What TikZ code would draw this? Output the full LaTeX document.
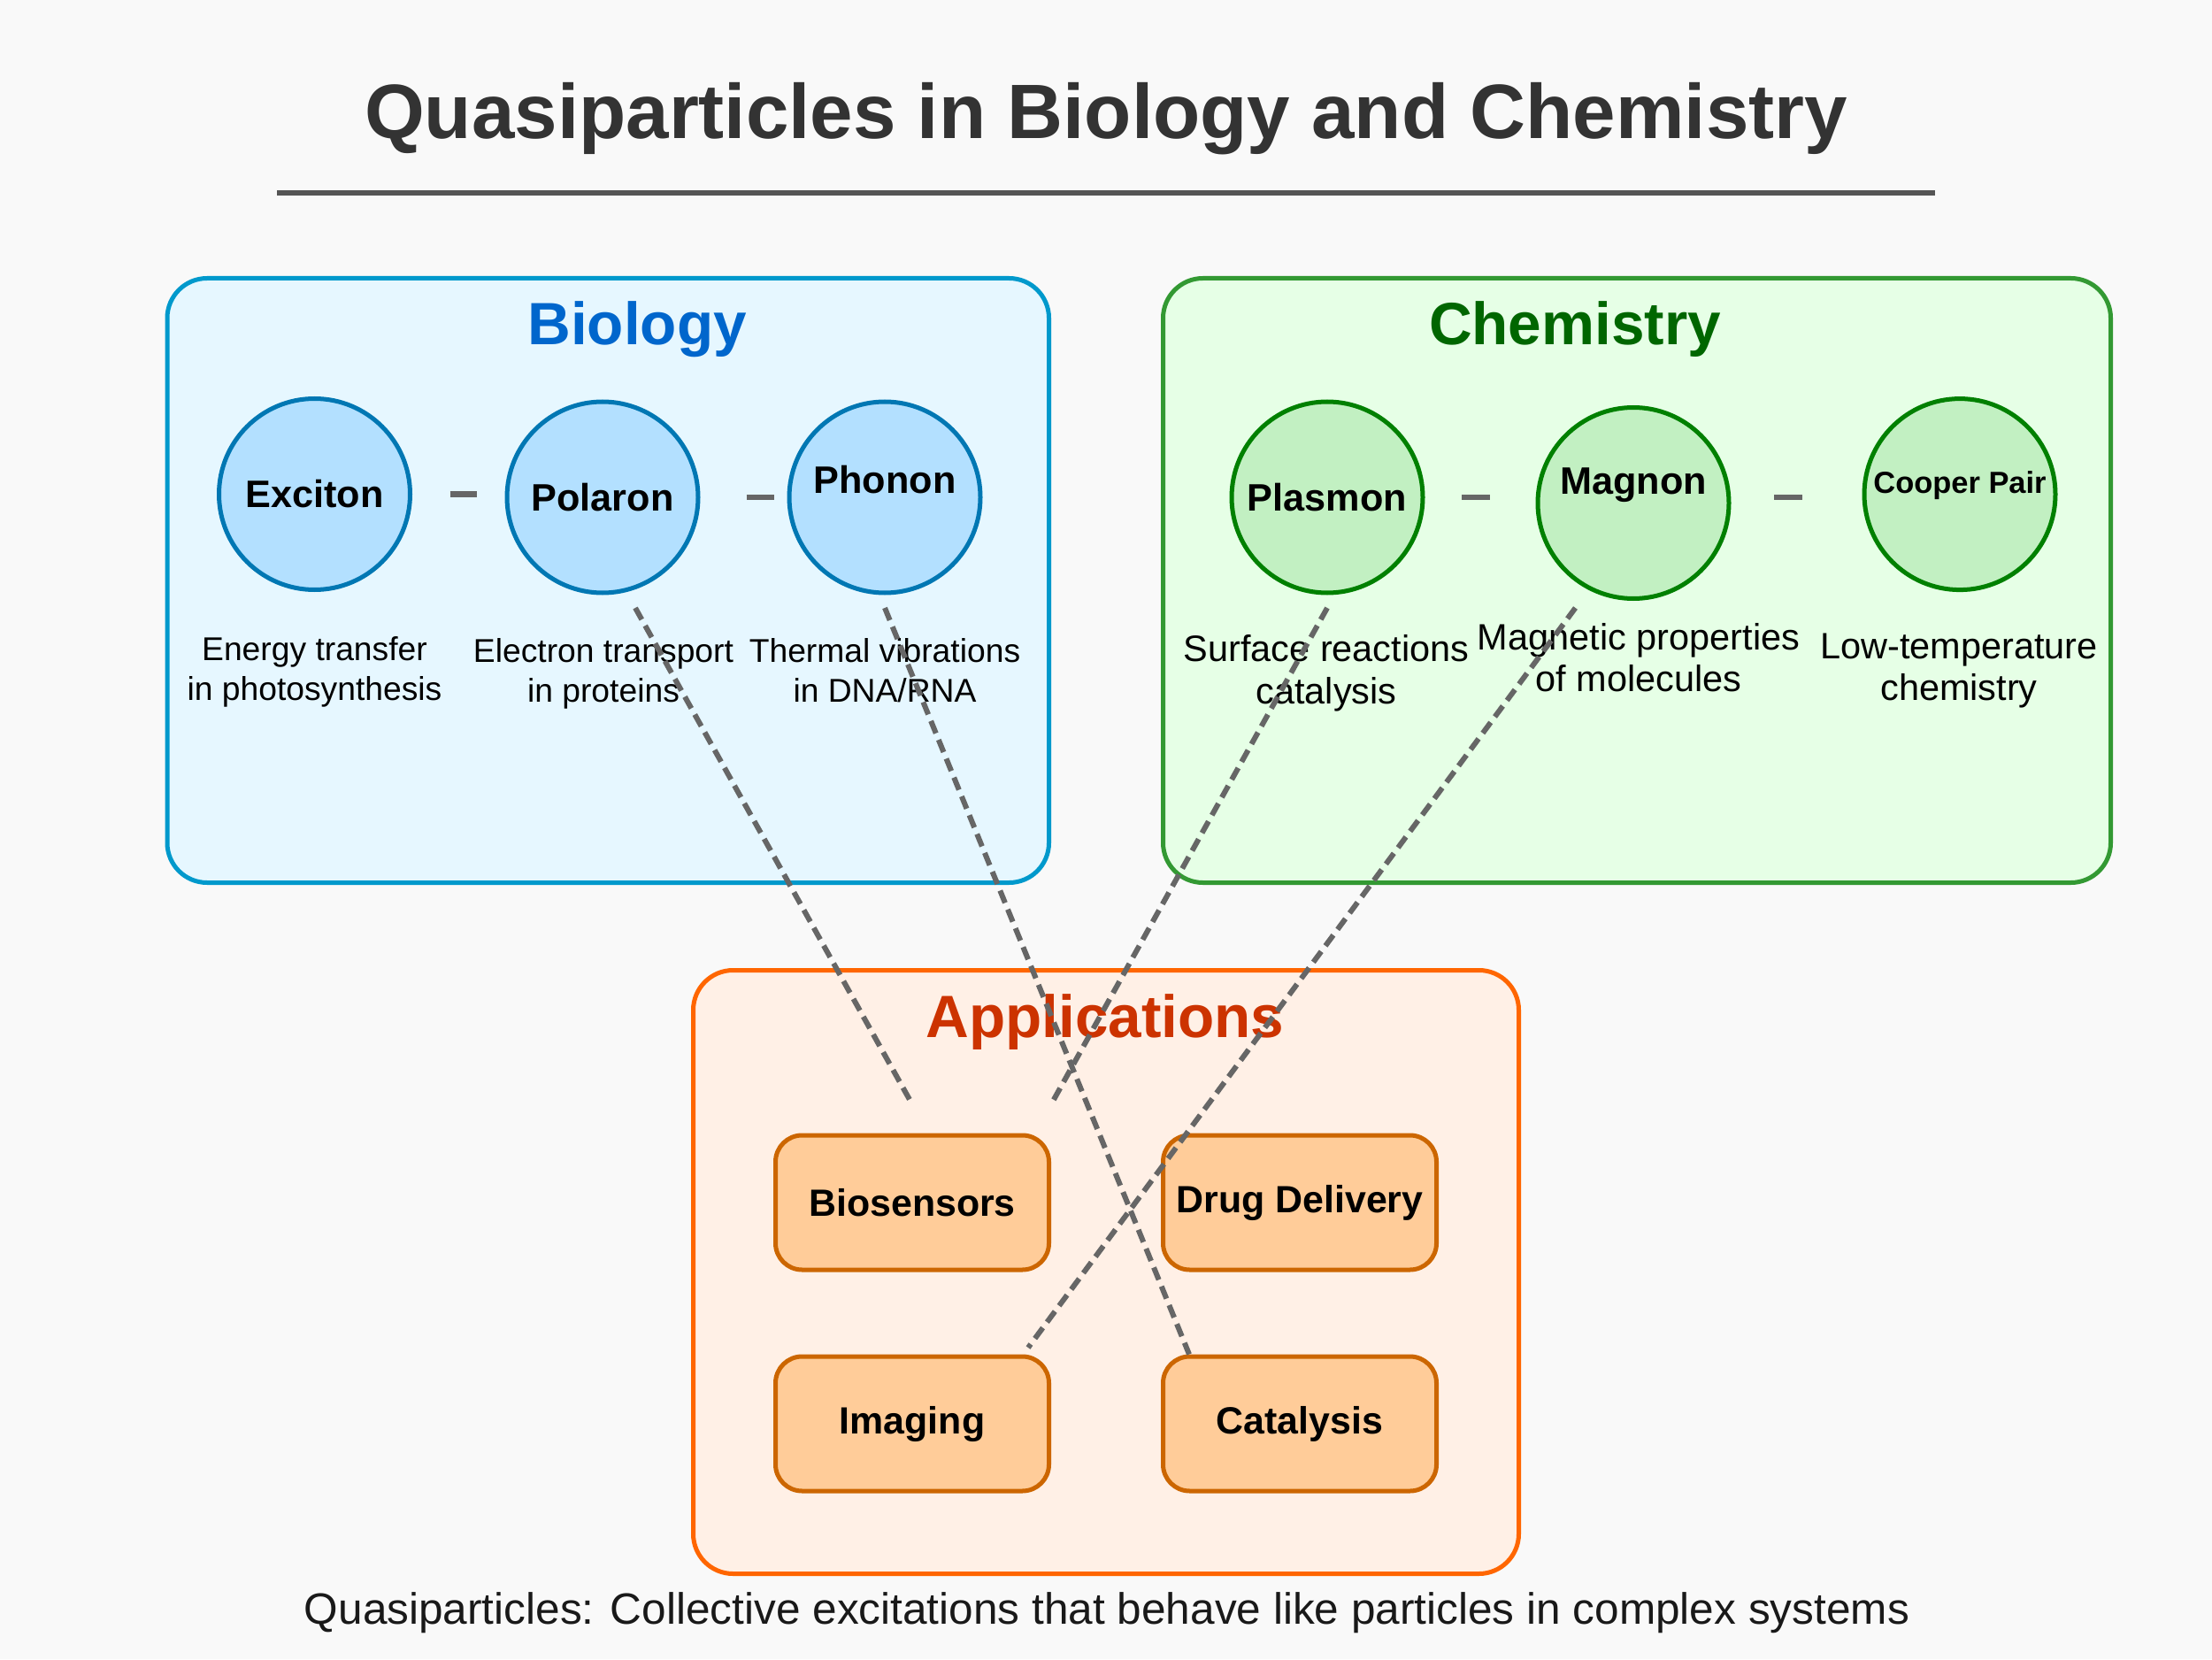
\documentclass[tikz,border=0pt]{standalone}
\usepackage{fontspec}
\setmainfont{Liberation Sans}
\definecolor{pagebg}{HTML}{F9F9F9}
\definecolor{titlegray}{HTML}{333333}
\definecolor{rulegray}{HTML}{555555}
\definecolor{linkgray}{HTML}{666666}
\definecolor{bioback}{HTML}{E6F7FF}
\definecolor{bioedge}{HTML}{0099CC}
\definecolor{biotitle}{HTML}{0066CC}
\definecolor{bioqfill}{HTML}{B3E0FF}
\definecolor{bioqedge}{HTML}{0077B3}
\definecolor{chemback}{HTML}{E6FFE6}
\definecolor{chemedge}{HTML}{339933}
\definecolor{chemtitle}{HTML}{006600}
\definecolor{chemqfill}{HTML}{C2F0C2}
\definecolor{chemqedge}{HTML}{008000}
\definecolor{appback}{HTML}{FFF0E6}
\definecolor{appedge}{HTML}{FF6600}
\definecolor{apptitle}{HTML}{CC3300}
\definecolor{appboxfill}{HTML}{FFCC99}
\definecolor{appboxedge}{HTML}{CC6600}
\tikzset{
  maintitle/.style={anchor=base, text=titlegray, font=\bfseries\fontsize{24.8}{30}\selectfont},
  titlerule/.style={draw=rulegray, line width=0.65mm},
  biopanel/.style={fill=bioback, draw=bioedge, line width=0.5mm, rounded corners=4.5mm},
  chempanel/.style={fill=chemback, draw=chemedge, line width=0.5mm, rounded corners=4.5mm},
  apppanel/.style={fill=appback, draw=appedge, line width=0.5mm, rounded corners=4.5mm},
  paneltitle/.style={anchor=base, font=\bfseries\fontsize{19.2}{23}\selectfont},
  quasi/.style={circle, minimum size=2.16cm, inner sep=0pt, line width=0.5mm, font=\bfseries\fontsize{12.3}{14}\selectfont},
  bioq/.style={quasi, fill=bioqfill, draw=bioqedge},
  chemq/.style={quasi, fill=chemqfill, draw=chemqedge},
  qname/.style={inner sep=0pt, font=\bfseries\fontsize{12.3}{14}\selectfont},
  biodesc/.style={anchor=base, align=center, inner sep=0pt, font=\fontsize{10.6}{12.8}\selectfont},
  chemdesc/.style={anchor=base, align=center, inner sep=0pt, font=\fontsize{11.8}{13.4}\selectfont},
  appbox/.style={rectangle, rounded corners=3mm, minimum width=3.09cm, minimum height=1.52cm, fill=appboxfill, draw=appboxedge, line width=0.5mm, font=\bfseries\fontsize{12.2}{14}\selectfont},
  chainlink/.style={draw=linkgray, line width=0.65mm},
  crosslink/.style={draw=linkgray, line width=0.6mm, dash pattern=on 1.5mm off 0.8mm},
  footnote/.style={anchor=base, text=black!90, font=\fontsize{14.1}{17}\selectfont},
}

\begin{document}
\begin{tikzpicture}
\useasboundingbox (0,0) rectangle (25,18.75);
\fill[pagebg] (0,0) rectangle (25,18.75);
\node[maintitle] (title) at (12.5,17.18) {Quasiparticles in Biology and Chemistry};
\draw[titlerule] (3.13,16.57) -- (21.87,16.57);
\draw[biopanel] (1.89,8.775) rectangle (11.855,15.605);
\draw[chempanel] (13.145,8.775) rectangle (23.855,15.605);
\draw[apppanel] (7.835,0.965) rectangle (17.165,7.785);
\node[paneltitle, text=biotitle] (biotitle) at (7.2,14.85) {Biology};
\node[paneltitle, text=chemtitle] (chemtitle) at (17.8,14.85) {Chemistry};
\node[paneltitle, text=apptitle] (apptitle) at (12.49,7.03) {Applications};
\node[bioq] (exciton) at (3.555,13.165) {Exciton};
\node[bioq] (polaron) at (6.81,13.13) {Polaron};
\node[bioq, label={[qname,yshift=2mm]center:Phonon}] (phonon) at (10.0,13.13) {};
\node[chemq] (plasmon) at (15.0,13.13) {Plasmon};
\node[chemq, label={[qname,yshift=2mm]center:Magnon}] (magnon) at (18.46,13.065) {};
\node[chemq, label={[qname,yshift=1mm,font=\bfseries\fontsize{9.8}{12}\selectfont]center:Cooper Pair}] (cooper) at (22.15,13.164) {};
\draw[chainlink, shorten <=4.25mm, shorten >=3.15mm] (exciton.east) -- (polaron.west |- exciton.east);
\draw[chainlink, shorten <=5.2mm, shorten >=1.45mm] (polaron.east) -- (phonon.west);
\draw[chainlink, shorten <=4.15mm, shorten >=5.15mm] (plasmon.east) -- (magnon.west |- plasmon.east);
\draw[chainlink, shorten <=4.85mm, shorten >=6.8mm] (magnon.east |- plasmon.east) -- (cooper.west |- plasmon.east);
\node[biodesc] (excitondesc) at (3.555,10.833) {Energy transfer\\in photosynthesis};
\node[biodesc] (polarondesc) at (6.82,10.82) {Electron transport\\in proteins};
\node[biodesc] (phonondesc) at (10.0,10.82) {Thermal vibrations\\in DNA/RNA};
\node[chemdesc] (plasmondesc) at (14.99,10.80) {Surface reactions\\catalysis};
\node[chemdesc] (magnondesc) at (18.52,10.933) {Magnetic properties\\of molecules};
\node[chemdesc] (cooperdesc) at (22.14,10.833) {Low-temperature\\chemistry};
\node[appbox] (biosensors) at (10.31,5.16) {Biosensors};
\node[appbox] (drug) at (14.69,5.16) {Drug Delivery};
\node[appbox] (imaging) at (10.31,2.66) {Imaging};
\node[appbox] (catalysis) at (14.69,2.66) {Catalysis};
\draw[crosslink] ([xshift=3.7mm,yshift=-1.45mm]polaron.south) -- ([yshift=3.25mm]biosensors.north);
\draw[crosslink] ([yshift=-1.45mm]phonon.south) -- ([xshift=-12.5mm]catalysis.north);
\draw[crosslink] ([yshift=-1.45mm]plasmon.south) -- ([yshift=3.25mm]biosensors.north east);
\draw[crosslink] ([xshift=-6.55mm,yshift=-0.8mm]magnon.south) -- ([xshift=-2.6mm,yshift=0.75mm]imaging.north east);
\node[footnote] (footer) at (12.51,0.40) {Quasiparticles: Collective excitations that behave like particles in complex systems};
\end{tikzpicture}
\end{document}
